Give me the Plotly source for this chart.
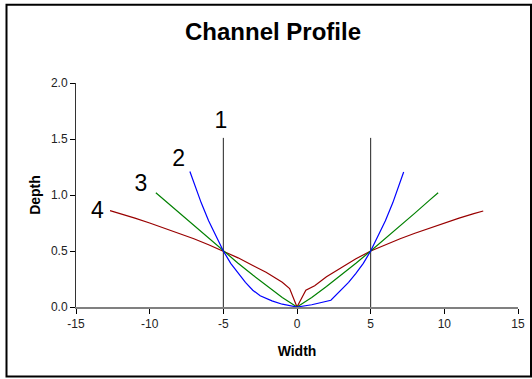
import plotly.graph_objects as go

# Channel profile curves (width vs depth)
x2 = [-7.27, -6.5, -6.0, -5.5, -5.0, -4.5, -4.0, -3.5, -3.0, -2.5, -1.7, -1.0, 0.0,
      1.0, 2.3, 3.0, 3.5, 4.0, 4.5, 5.0, 5.5, 6.0, 6.5, 7.24]
y2 = [1.21, 0.93, 0.77, 0.63, 0.50, 0.39, 0.30, 0.22, 0.15, 0.10, 0.055, 0.025, 0.0,
      0.02, 0.06, 0.15, 0.22, 0.30, 0.39, 0.50, 0.63, 0.77, 0.93, 1.205]

x3 = [-9.58, -9.0, -8.0, -7.0, -6.0, -5.0, -4.0, -3.0, -2.0, -1.0, 0.0,
      1.0, 2.0, 3.0, 4.0, 5.0, 6.0, 7.0, 8.0, 9.0, 9.58]
y3 = [1.02, 0.954, 0.838, 0.724, 0.611, 0.50, 0.391, 0.285, 0.183, 0.085, 0.0,
      0.085, 0.183, 0.285, 0.391, 0.50, 0.611, 0.724, 0.838, 0.954, 1.02]

x4 = [-12.69, -12.0, -11.0, -10.0, -9.0, -8.0, -7.0, -6.0, -5.0, -4.0, -3.0, -2.1, -1.0, -0.5, 0.0,
      0.6, 1.2, 2.0, 3.0, 4.0, 5.0, 6.0, 7.0, 8.0, 9.0, 10.0, 11.0, 12.0, 12.64]
y4 = [0.86, 0.834, 0.793, 0.75, 0.705, 0.658, 0.609, 0.556, 0.50, 0.439, 0.371, 0.31, 0.22, 0.165, 0.0,
      0.15, 0.19, 0.27, 0.35, 0.43, 0.50, 0.556, 0.609, 0.658, 0.705, 0.75, 0.793, 0.834, 0.857]

bank_x = [-5, 5]
bank_top = 1.51

labels = ["1", "2", "3", "4"]
label_x = [-5.16, -8.03, -10.6, -13.55]
label_y = [1.65, 1.31, 1.09, 0.85]

L, R, T, B = 76, 14, 83, 72
W, H = 532, 379
pw, ph = W - L - R, H - T - B

fig = go.Figure()
for bx in bank_x:
    fig.add_trace(go.Scatter(x=[bx, bx], y=[0, bank_top], mode="lines",
                             line=dict(color="#222222", width=1), showlegend=False, hoverinfo="skip"))
fig.add_trace(go.Scatter(x=x4, y=y4, mode="lines", line=dict(color="#990000", width=1.2), showlegend=False))
fig.add_trace(go.Scatter(x=x3, y=y3, mode="lines", line=dict(color="#008000", width=1.2), showlegend=False))
fig.add_trace(go.Scatter(x=x2, y=y2, mode="lines", line=dict(color="#0000FF", width=1.2), showlegend=False))

fig.add_trace(go.Scatter(x=label_x, y=label_y, mode="text", text=labels,
                         textfont=dict(family="Arial, Liberation Sans", size=23, color="#000000"),
                         showlegend=False, hoverinfo="skip"))

fig.update_layout(
    width=W, height=H,
    margin=dict(l=L, r=R, t=T, b=B),
    paper_bgcolor="white", plot_bgcolor="white",
    font=dict(family="Arial, Liberation Sans, sans-serif", color="#000000"),
    title=dict(text="<b>Channel Profile</b>", x=273 / W, xanchor="center",
               y=1 - 32 / H, yanchor="middle",
               font=dict(size=24, color="#000000")),
    xaxis=dict(range=[-15, 15], tickvals=[-15, -10, -5, 0, 5, 10, 15],
               ticktext=["-15", "-10", "-5", "0", "5", "10", "15"],
               showgrid=False, zeroline=False, showline=True, linecolor="#808080", linewidth=2,
               ticks="outside", ticklen=5, tickcolor="#000000", tickwidth=1,
               tickfont=dict(size=12, color="#222222"), automargin=False,
               title=dict(text="<b>Width</b>", font=dict(size=14, color="#000000"), standoff=16)),
    yaxis=dict(range=[0, 2], tickvals=[0, 0.5, 1.0, 1.5, 2.0],
               ticktext=["0.0", "0.5", "1.0", "1.5", "2.0"],
               showgrid=False, zeroline=False, showline=True, linecolor="#333333", linewidth=1,
               ticks="outside", ticklen=5, tickcolor="#000000", tickwidth=1,
               tickfont=dict(size=12, color="#222222"), automargin=False,
               title=dict(text="<b>Depth</b>", font=dict(size=14, color="#000000"), standoff=7)),
    shapes=[dict(type="rect", xref="paper", yref="paper",
                 x0=(6.5 - L) / pw, x1=(531 - L) / pw,
                 y0=-(376.5 - (H - B)) / ph, y1=((H - B) - 4.7) / ph,
                 line=dict(color="#000000", width=2), fillcolor="rgba(0,0,0,0)", layer="below")],
)

fig.write_html("out.html", config={"displayModeBar": False},
               post_script="document.body.style.margin='0';document.body.style.overflow='hidden';")
